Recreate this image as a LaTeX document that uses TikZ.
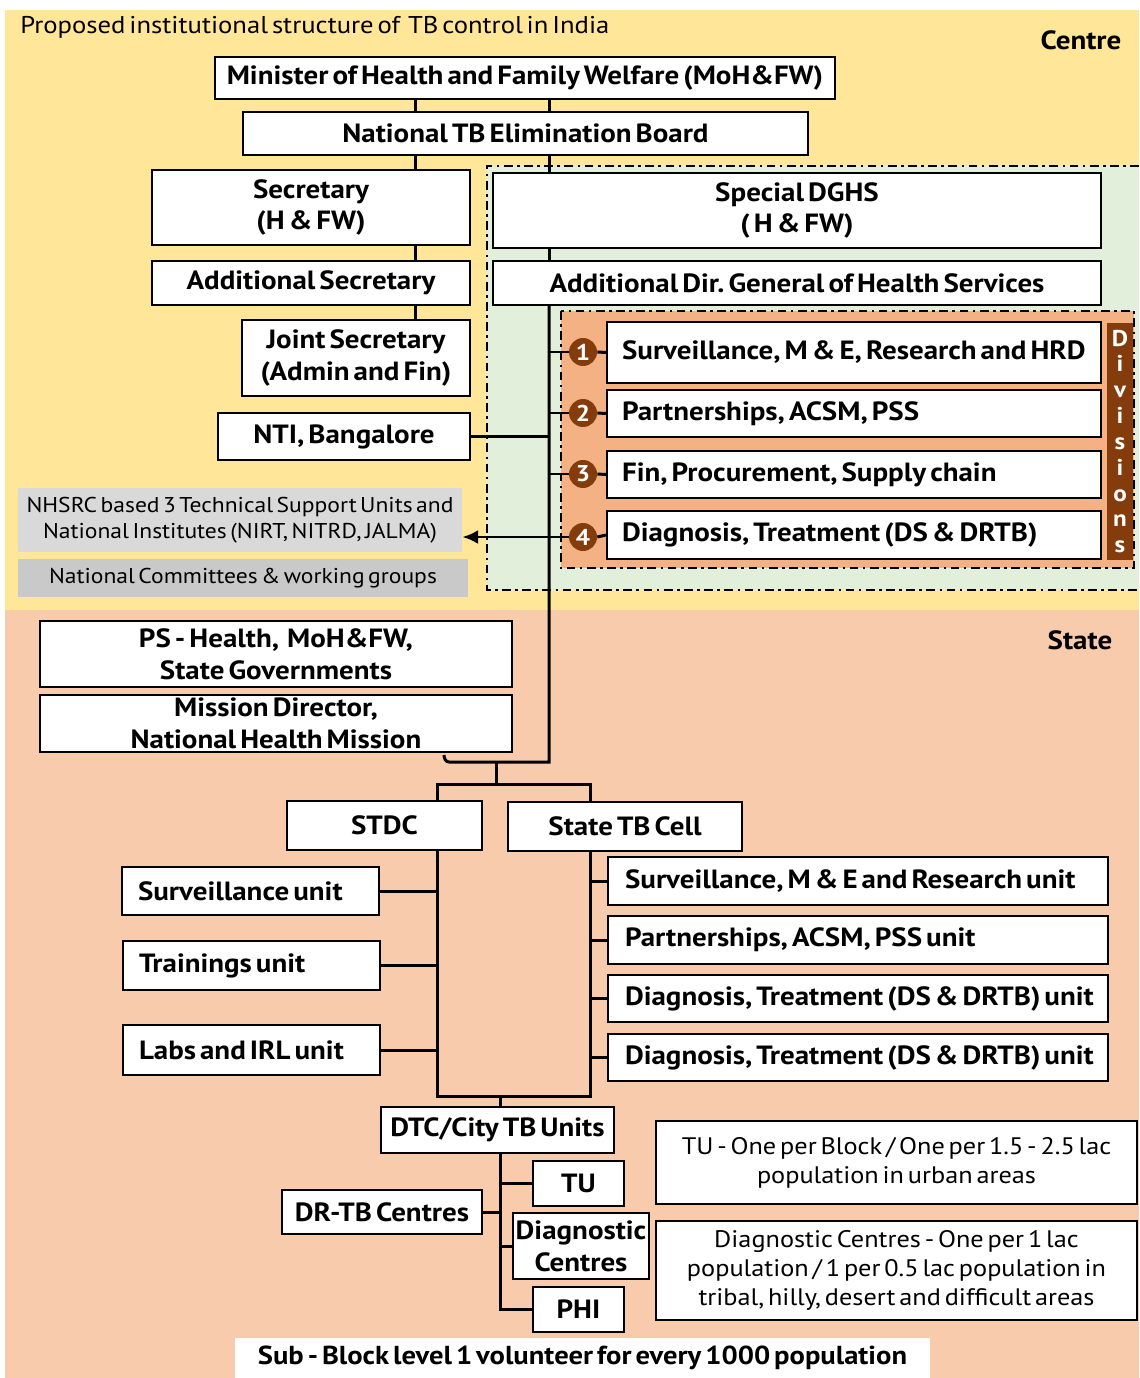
\documentclass[tikz,border=0pt]{standalone}
\usepackage{fontspec}
\setmainfont{PT Sans}[FakeStretch=1.1, WordSpace=0.55]
\usetikzlibrary{arrows.meta}
\definecolor{centrebg}{HTML}{FFE699}
\definecolor{statebg}{HTML}{F8CBAD}
\definecolor{dghsbg}{HTML}{E2EFDA}
\definecolor{divbg}{HTML}{F4B183}
\definecolor{divbrown}{HTML}{843C0C}
\definecolor{greyA}{HTML}{D9D9D9}
\definecolor{greyB}{HTML}{C9C9C9}
\frenchspacing

\begin{document}
\begin{tikzpicture}[x=0.02cm, y=-0.02cm,
    box/.style = {draw, fill=white, line width=1.4pt, inner sep=0pt, align=center, font=\bfseries\fontsize{15}{18}\selectfont},
    lbox/.style = {box, align=flush left, execute at begin node={\hspace*{#1}}},
    lbox/.default = 0.32cm,
    note/.style = {draw, fill=white, line width=1.4pt, inner sep=0pt, align=center, font=\fontsize{13.6}{16.5}\selectfont},
    grey/.style = {inner sep=0pt, align=center, font=\fontsize{12.2}{14.7}\selectfont},
    num/.style = {circle, fill=divbrown, text=white, minimum size=0.56cm, inner sep=0pt, font=\bfseries\fontsize{13}{13}\selectfont},
    link/.style = {line width=1.7pt},
    region/.style = {line width=1.2pt, dash pattern=on 5pt off 2.5pt on 1.5pt off 2.5pt}]
    \useasboundingbox (0,0) rectangle (1139,1378);
    \fill[centrebg] (5,10) rectangle (1139,610);
    \fill[statebg] (5,610) rectangle (1139,1378);
    \fill[dghsbg] (487,166) rectangle (1139,590);
    \draw[region] (1139,166) -- (487,166) -- (487,590) -- (1139,590);
    \filldraw[region, fill=divbg] (561,311) rectangle (1134,568);

    \node[anchor=west, inner sep=0pt, font=\fontsize{13.8}{16}\selectfont] (title) at (20,27) {Proposed institutional structure of~ TB control in India};
    \node[inner sep=0pt, font=\bfseries\fontsize{15}{18}\selectfont] (centre) at (1081,40) {Centre};
    \node[inner sep=0pt, font=\bfseries\fontsize{15}{18}\selectfont] (state) at (1080,640) {State};

    \node[box, minimum width=12.4cm, minimum height=0.84cm] (min) at (525,78) {Minister of Health and Family Welfare (MoH\&FW)};
    \node[box, minimum width=11.3cm, minimum height=0.86cm] (board) at (525.5,133.5) {National TB Elimination Board};
    \node[box, minimum width=6.36cm, minimum height=1.5cm] (sec) at (311,207.5) {Secretary\\(H \& FW)};
    \node[box, minimum width=6.36cm, minimum height=0.88cm] (addsec) at (311,283) {Additional Secretary};
    \node[box, minimum width=4.56cm, minimum height=1.52cm] (jsec) at (356,358) {Joint Secretary\\(Admin and Fin)};
    \node[box, minimum width=5.04cm, minimum height=0.94cm] (nti) at (344,436.5) {NTI, Bangalore};
    \node[box, minimum width=12.16cm, minimum height=1.5cm] (sdghs) at (797,210.5) {Special DGHS\\( H \& FW)};
    \node[box, minimum width=12.16cm, minimum height=0.88cm] (adg) at (797,283) {Additional Dir. General of Health Services};

    \node[lbox=0.3cm, text width=9.88cm, minimum height=1.22cm] (d1) at (854,352.5) {Surveillance, M \& E, Research and HRD};
    \node[lbox=0.3cm, text width=9.88cm, minimum height=0.94cm] (d2) at (854,413.5) {Partnerships, ACSM, PSS};
    \node[lbox=0.3cm, text width=9.88cm, minimum height=0.94cm] (d3) at (854,474.5) {Fin, Procurement, Supply chain};
    \node[lbox=0.3cm, text width=9.88cm, minimum height=0.96cm] (d4) at (854,535) {Diagnosis, Treatment (DS \& DRTB)};
    \node[num] (c1) at (583,352) {1};
    \node[num] (c2) at (583,413) {2};
    \node[num] (c3) at (583,474) {3};
    \node[num] (c4) at (583,537) {4};
    \node[fill=divbrown, text=white, minimum width=0.52cm, minimum height=4.74cm, inner sep=0pt, align=center, font=\bfseries\fontsize{13}{14.7}\selectfont] (divs) at (1120,441.5) {D\\i\\v\\i\\s\\i\\o\\n\\s};

    \node[grey, fill=greyA, minimum width=8.88cm, minimum height=1.28cm] (nhsrc) at (240,520) {NHSRC based 3 Technical Support Units and\\National Institutes (NIRT, NITRD, JALMA)};
    \node[grey, fill=greyB, minimum width=9cm, minimum height=0.76cm] (ncom) at (243,578) {National Committees \& working groups};

    \node[box, minimum width=9.44cm, minimum height=1.32cm] (ps) at (276,654) {PS - Health,~ MoH\&FW,\\State Governments};
    \node[box, minimum width=9.44cm, minimum height=1.14cm] (md) at (276,723.5) {Mission Director,\\National Health Mission};
    \node[box, minimum width=3.9cm, minimum height=0.98cm] (stdc) at (384.5,825.5) {STDC};
    \node[box, minimum width=4.68cm, minimum height=0.98cm] (stbc) at (625,826.5) {State TB Cell};
    \node[lbox, text width=5.14cm, minimum height=0.96cm] (su) at (250.5,891) {Surveillance unit};
    \node[lbox, text width=5.14cm, minimum height=0.98cm] (tr) at (251.5,965.5) {Trainings unit};
    \node[lbox, text width=5.14cm, minimum height=1cm] (labs) at (251.5,1050) {Labs and IRL unit};
    \node[lbox=0.34cm, text width=10cm, minimum height=0.96cm] (rs1) at (858,881) {Surveillance, M \& E and Research unit};
    \node[lbox=0.34cm, text width=10cm, minimum height=0.96cm] (rs2) at (858,940) {Partnerships, ACSM, PSS unit};
    \node[lbox=0.34cm, text width=10cm, minimum height=0.94cm] (rs3) at (858,998.5) {Diagnosis, Treatment (DS \& DRTB) unit};
    \node[lbox=0.34cm, text width=10cm, minimum height=0.94cm] (rs4) at (858,1057.5) {Diagnosis, Treatment (DS \& DRTB) unit};
    \node[box, minimum width=4.66cm, minimum height=0.92cm] (dtc) at (497.5,1130) {DTC/City TB Units};
    \node[box, minimum width=1.82cm, minimum height=0.9cm] (tu) at (578.5,1183.5) {TU};
    \node[box, minimum width=2.72cm, minimum height=1.32cm] (dc) at (581,1246) {Diagnostic\\Centres};
    \node[box, minimum width=1.82cm, minimum height=0.9cm] (phi) at (578.5,1309.5) {PHI};
    \node[box, minimum width=4cm, minimum height=0.88cm] (drtb) at (382,1212) {DR-TB Centres};
    \node[note, minimum width=9.62cm, minimum height=1.66cm] (tunote) at (896.5,1162.5) {TU - One per Block / One per 1.5 - 2.5 lac\\population in urban areas};
    \node[note, minimum width=9.62cm, minimum height=1.98cm] (dcnote) at (896.5,1270.5) {Diagnostic Centres - One per 1 lac\\population / 1 per 0.5 lac population in\\tribal, hilly, desert and difficult areas};
    \node[fill=white, inner sep=0pt, minimum width=13.9cm, minimum height=0.8cm, font=\bfseries\fontsize{14.8}{16}\selectfont] (sub) at (582.5,1358) {Sub - Block level 1 volunteer for every 1000 population};

    \coordinate (lx) at (415,0);
    \coordinate (mx) at (549,0);
    \coordinate (ls) at (437,0);
    \coordinate (rs) at (590,0);
    \coordinate (brace) at (496,762);
    \coordinate (bracecorner) at (449,762);
    \coordinate (braceend) at (444,755);
    \coordinate (bar) at (496,784);
    \coordinate (dtop) at (500,1096);

    \draw[link] (min.south -| lx) -- (board.north -| lx);
    \draw[link] (min.south -| mx) -- (board.north -| mx);
    \draw[link] (board.south -| lx) -- (sec.north -| lx);
    \draw[link] (sec.south -| lx) -- (addsec.north -| lx);
    \draw[link] (addsec.south -| lx) -- (jsec.north -| lx);
    \draw[link] (board.south -| mx) -- (sdghs.north -| mx);
    \draw[link] (sdghs.south -| mx) -- (adg.north -| mx);
    \draw[link] (adg.south -| mx) -- (mx |- brace) -- (bracecorner) to[out=180, in=-90] (braceend);
    \draw[link] (nti.east) -- (nti.east -| mx);
    \foreach \i in {1,2,3} {
        \draw[link] (c\i -| mx) -- (c\i.west);
    }
    \foreach \i in {1,2,3,4} {
        \draw[link] (c\i.east) -- (d\i.west);
    }
    \draw[link, -{Latex[length=9pt, width=8pt]}] (c4.west) -- (c4.west -| nhsrc.east);

    \draw[link] (brace) -- (bar);
    \draw[link] (stdc.north -| ls) |- (bar) -| (stbc.north -| rs);
    \draw[link] (stdc.south -| ls) |- (dtop) -| (stbc.south -| rs);
    \draw[link] (dtop) -- (dtc.north -| dtop);
    \foreach \u in {su,tr,labs} {
        \draw[link] (\u.east) -- (\u.east -| ls);
    }
    \foreach \u in {rs1,rs2,rs3,rs4} {
        \draw[link] (\u.west) -- (\u.west -| rs);
    }
    \draw[link] (dtc.south -| dtop) |- (phi.west);
    \draw[link] (tu.west) -- (tu.west -| dtop);
    \draw[link] (dc.west) -- (dc.west -| dtop);
    \draw[link] (drtb.east) -- (drtb.east -| dtop);
\end{tikzpicture}
\end{document}
